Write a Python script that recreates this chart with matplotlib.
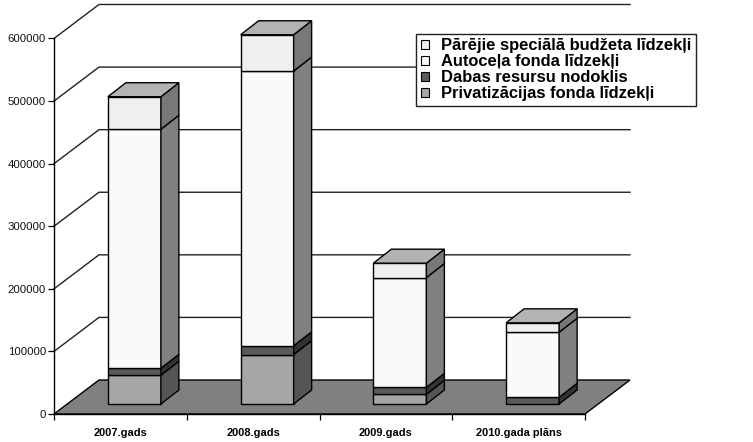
import matplotlib
matplotlib.use("Agg")
import numpy as np
import matplotlib.pyplot as plt
from matplotlib.patches import Polygon, Patch

plt.rcParams['font.family'] = ['Liberation Sans', 'DejaVu Sans']

# Data
categories = ["2007.gads", "2008.gads", "2009.gads", "2010.gada plāns"]
privatizacija = [46000, 79000, 15500, 0]
dabas_resursi = [11000, 14000, 11000, 10700]
autocelu_fonds = [382000, 439000, 175500, 104000]
parejie = [52000, 58000, 23000, 15000]
series_names = ["Privatizācijas fonda līdzekļi", "Dabas resursu nodoklis",
                "Autoceļa fonda līdzekļi", "Pārējie speciālā budžeta līdzekļi"]
yticks = [0, 100000, 200000, 300000, 400000, 500000, 600000]

# Styles
front_colors = ['#a6a6a6', '#5a5a5a', '#fafafa', '#efefef']
side_colors = ['#555555', '#333333', '#808080', '#787878']
top_color = '#b3b3b3'
floor_color = '#808080'

# Scale: axes span 531 px for 4 categories, 375.5 px for 600000
px_x = 4 / 531.0
px_y = 600000 / 375.5
wall_dx, wall_dy = 45 * px_x, 34 * px_y
bar_dx, bar_dy = 18 * px_x, 14 * px_y
bar_width = 53 * px_x
bar_shift = 14 * px_x
base = 10 * px_y

W, H = 753, 442
fig = plt.figure(figsize=(W / 100, H / 100), dpi=100)
ax = fig.add_axes([54 / W, (H - 414) / H, 531 / W, 375.5 / H])
ax.set_xlim(-0.5, 3.5)
ax.set_ylim(0, 600000)
ax.patch.set_visible(False)

x0, x1 = -0.5, 3.5

# back wall lines
for v in yticks[1:]:
    ax.plot([x0, x0 + wall_dx, x1 + wall_dx], [v, v + wall_dy, v + wall_dy],
            color='#222222', lw=1.0, zorder=1, clip_on=False, solid_joinstyle='miter')

# floor
ax.add_patch(Polygon([(x0, 0), (x0 + wall_dx, wall_dy), (x1 + wall_dx, wall_dy), (x1, 0)],
                     closed=True, facecolor=floor_color, edgecolor='black', lw=1.0,
                     zorder=2, clip_on=False))

# bars
layers = [privatizacija, dabas_resursi, autocelu_fonds, parejie]
for i in range(len(categories)):
    left = i - bar_width / 2 + bar_shift
    right = left + bar_width
    bottom = base
    for k, vals in enumerate(layers):
        v = vals[i]
        if v == 0:
            continue
        ax.bar(left, v, bar_width, bottom=bottom, align='edge', color=front_colors[k],
               edgecolor='black', lw=1.0, zorder=4, clip_on=False)
        ax.add_patch(Polygon([(right, bottom), (right + bar_dx, bottom + bar_dy),
                              (right + bar_dx, bottom + v + bar_dy), (right, bottom + v)],
                             closed=True, facecolor=side_colors[k], edgecolor='black', lw=1.0,
                             zorder=4, clip_on=False))
        bottom += v
    ax.add_patch(Polygon([(left, bottom), (left + bar_dx, bottom + bar_dy),
                          (right + bar_dx, bottom + bar_dy), (right, bottom)],
                         closed=True, facecolor=top_color, edgecolor='black', lw=1.0,
                         zorder=4, clip_on=False))

# axes
for s in ['top', 'right']:
    ax.spines[s].set_visible(False)
for s in ['left', 'bottom']:
    ax.spines[s].set_linewidth(1.0)
    ax.spines[s].set_zorder(5)
ax.set_yticks(yticks)
ax.set_yticklabels([str(v) for v in yticks], fontsize=8.2, color='#111111')
ax.tick_params(axis='y', length=4.3, width=0.9, pad=1.5)
ax.set_xticks(np.arange(-0.5, 4, 1))
ax.set_xticklabels([])
ax.tick_params(axis='x', which='major', length=4.3, width=0.9)
ax.set_xticks(range(len(categories)), minor=True)
ax.set_xticklabels(categories, minor=True, fontsize=7.9, fontweight='bold')
ax.tick_params(axis='x', which='minor', length=0, pad=10)

# legend, same order as reference (reversed stacking)
handles = [Patch(facecolor=front_colors[k], edgecolor='black', lw=0.8) for k in (3, 2, 1, 0)]
labels = [series_names[k] for k in (3, 2, 1, 0)]
leg = fig.legend(handles, labels, loc='upper left', bbox_to_anchor=(416 / W, 1 - 33.5 / H),
                 prop={'size': 11.9, 'weight': 'bold'}, frameon=True, fancybox=False,
                 framealpha=1, edgecolor='#222222', borderpad=0.3, labelspacing=0.06,
                 handlelength=0.5, handleheight=0.5, handletextpad=0.73, borderaxespad=0)
leg.get_frame().set_linewidth(1.0)
leg.set_zorder(10)

plt.savefig("out.png", dpi=100)
plt.close(fig)
